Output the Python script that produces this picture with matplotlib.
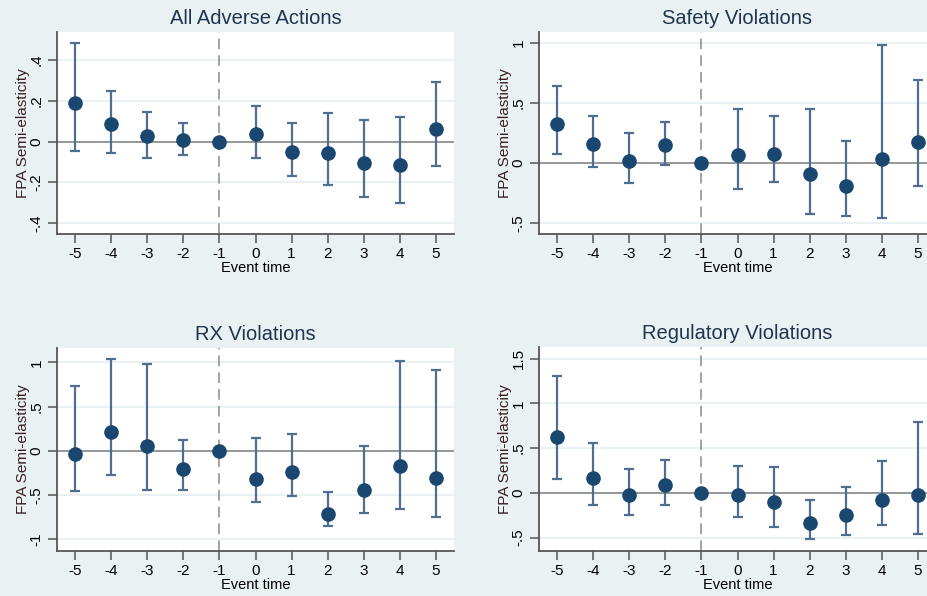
import matplotlib
matplotlib.use("Agg")
import matplotlib.pyplot as plt
import numpy as np

plt.rcParams['font.family'] = ['Liberation Sans', 'DejaVu Sans']

event_time = [-5, -4, -3, -2, -1, 0, 1, 2, 3, 4, 5]

titles = ["All Adverse Actions", "Safety Violations", "RX Violations", "Regulatory Violations"]

# point estimates and 95% CI bounds (event time -1 is the omitted period)
all_est = [0.191, 0.084, 0.025, 0.008, 0.0, 0.038, -0.049, -0.054, -0.104, -0.115, 0.064]
all_hi = [0.486, 0.250, 0.145, 0.089, 0.0, 0.174, 0.091, 0.138, 0.107, 0.120, 0.293]
all_lo = [-0.044, -0.058, -0.081, -0.064, 0.0, -0.082, -0.171, -0.211, -0.270, -0.300, -0.122]

safety_est = [0.328, 0.161, 0.019, 0.147, 0.0, 0.064, 0.078, -0.089, -0.189, 0.036, 0.172]
safety_hi = [0.644, 0.394, 0.250, 0.339, 0.0, 0.447, 0.389, 0.450, 0.183, 0.986, 0.694]
safety_lo = [0.072, -0.031, -0.164, -0.017, 0.0, -0.217, -0.158, -0.425, -0.442, -0.456, -0.189]

rx_est = [-0.034, 0.208, 0.049, -0.211, 0.0, -0.321, -0.245, -0.721, -0.449, -0.174, -0.306]
rx_hi = [0.736, 1.038, 0.985, 0.121, 0.0, 0.143, 0.192, -0.468, 0.053, 1.015, 0.913]
rx_lo = [-0.460, -0.279, -0.442, -0.442, 0.0, -0.585, -0.517, -0.857, -0.706, -0.664, -0.747]

reg_est = [0.628, 0.165, -0.026, 0.086, 0.0, -0.026, -0.108, -0.337, -0.251, -0.075, -0.022]
reg_hi = [1.306, 0.557, 0.269, 0.363, 0.0, 0.303, 0.292, -0.082, 0.064, 0.359, 0.793]
reg_lo = [0.157, -0.131, -0.251, -0.138, 0.0, -0.273, -0.378, -0.520, -0.468, -0.363, -0.464]

ests = [all_est, safety_est, rx_est, reg_est]
his = [all_hi, safety_hi, rx_hi, reg_hi]
los = [all_lo, safety_lo, rx_lo, reg_lo]

yticks = [[-0.4, -0.2, 0, 0.2, 0.4], [-0.5, 0, 0.5, 1], [-1, -0.5, 0, 0.5, 1], [-0.5, 0, 0.5, 1, 1.5]]
yticklabels = [["-.4", "-.2", "0", ".2", ".4"], ["-.5", "0", ".5", "1"],
               ["-1", "-.5", "0", ".5", "1"], ["-.5", "0", ".5", "1", "1.5"]]
ylims = [(-0.454, 0.538), (-0.59, 1.09), (-1.136, 1.163), (-0.651, 1.631)]

bg = "#eaf1f3"
navy = "#1a476f"
bar_col = "#4f6f91"

W, H = 927, 596
fig = plt.figure(figsize=(W / 100, H / 100), dpi=100, facecolor=bg)

# axes boxes in pixels: left, top, right, bottom (right panels run past the image edge)
boxes = [(57, 32, 454, 234), (539, 32, 936, 234), (57, 348, 454, 551), (539, 347, 936, 551)]

for i in range(4):
    l, t, r, b = boxes[i]
    ax = fig.add_axes([l / W, 1 - b / H, (r - l) / W, (b - t) / H])
    ax.set_facecolor("white")
    x = np.array(event_time)
    est = np.array(ests[i])
    hi = np.array(his[i])
    lo = np.array(los[i])
    mask = x != -1

    for yt in yticks[i]:
        ax.axhline(yt, color=bg, lw=1.6, zorder=0)
    ax.axhline(0, color="#808080", lw=1.1, zorder=1)
    ax.axvline(-1, color="#8a8a8a", lw=1.1, ls=(0, (7, 4)), zorder=1)

    ax.errorbar(x[mask], est[mask], yerr=[est[mask] - lo[mask], hi[mask] - est[mask]],
                fmt="none", ecolor=bar_col, elinewidth=1.6, capsize=3.6, capthick=1.6, zorder=2)
    ax.plot(x, est, "o", color=navy, ms=9.5, zorder=3)

    ax.set_xlim(-5.5, 5.5)
    ax.set_ylim(*ylims[i])
    ax.set_xticks(event_time)
    ax.set_xticklabels([str(v) for v in event_time], fontsize=11)
    ax.set_yticks(yticks[i])
    ax.set_yticklabels(yticklabels[i], fontsize=11, rotation=90, va="center")

    for s in ["top", "right"]:
        ax.spines[s].set_visible(False)
    for s in ["left", "bottom"]:
        ax.spines[s].set_color("#555555")
        ax.spines[s].set_linewidth(1.3)
    ax.tick_params(axis="both", direction="out", length=6.5, width=1.1, color="#555555", pad=3)

    ax.set_title(titles[i], fontsize=14.5, color="#1e3550", pad=6)
    ax.set_xlabel("Event time", fontsize=10.5, labelpad=0)
    ax.set_ylabel("FPA Semi-elasticity", fontsize=11, color="#3a1f1f", labelpad=0)

fig.savefig("out.png", dpi=100, facecolor=bg)
